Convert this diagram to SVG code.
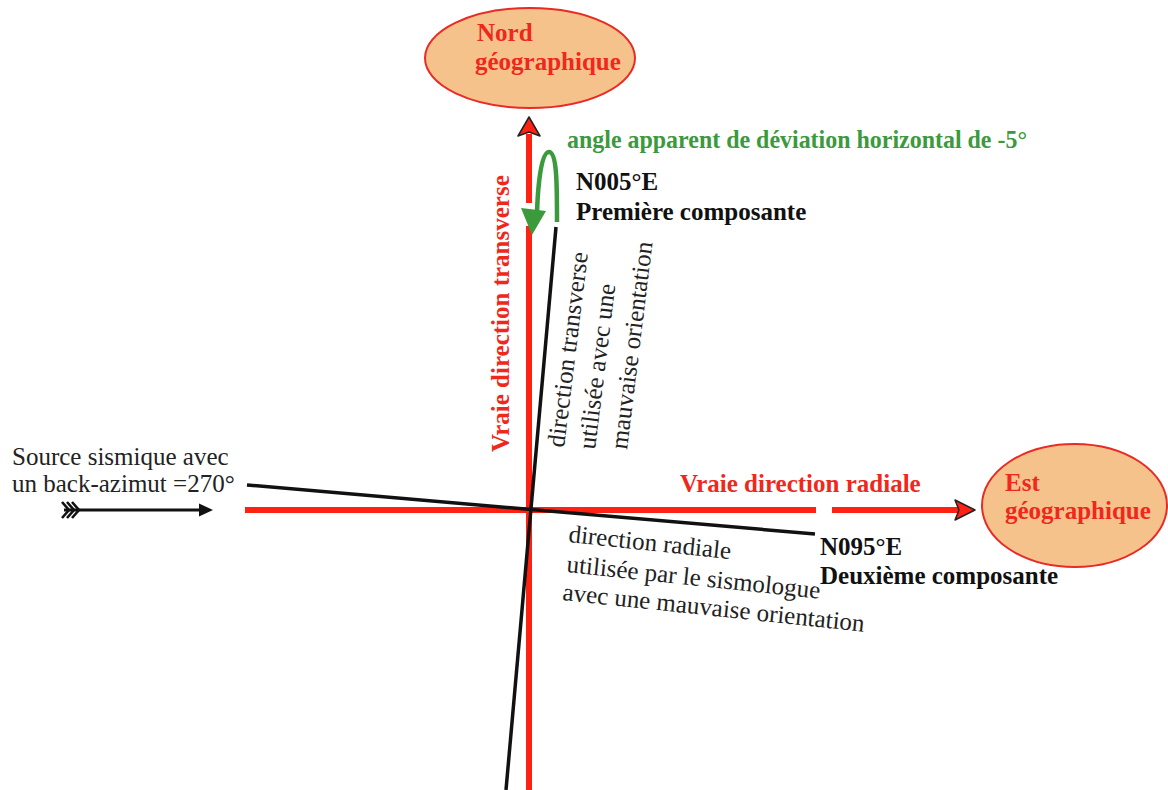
<svg xmlns="http://www.w3.org/2000/svg" width="1168" height="790" viewBox="0 0 1168 790">
<style>
.red{stroke:#ff2212;stroke-width:6;fill:none}
.blk{stroke:#111;stroke-width:3.5;fill:none}
.bold{font-family:"Liberation Serif","Times New Roman",serif;font-weight:bold;font-size:25px}
.reg{font-family:"Liberation Serif","Times New Roman",serif;font-size:25px;fill:#222}
.rt{fill:#f0281c}
.ell{fill:#f6c28c;stroke:#ea2a24;stroke-width:2}
.ah{fill:#ff2212;stroke:#222;stroke-width:1.5;stroke-linejoin:round}
</style>
<rect width="1168" height="790" fill="#ffffff"/>
<g id="connectors">
  <line class="red" x1="529" y1="134" x2="529" y2="203"/>
  <line class="red" x1="529" y1="226" x2="529" y2="790"/>
  <polygon class="ah" points="529,117 540,136 529,132 518,136"/>
  <line class="red" x1="245" y1="510" x2="816" y2="510"/>
  <line class="red" x1="832" y1="510" x2="958" y2="510"/>
  <polygon class="ah" points="975,510 955,500 959,510 955,520"/>
  <line class="blk" x1="556" y1="227" x2="506" y2="790"/>
  <line class="blk" x1="247" y1="485" x2="815" y2="534"/>
  <path d="M557,222 C557,185 557,152 549,152 C541,152 538,185 537,212" fill="none" stroke="#3a9a3c" stroke-width="4.5"/>
  <polygon points="521,208 546,211 532,235" fill="#3a9a3c"/>
  <g id="source-arrow" stroke="#111" fill="none" stroke-width="3">
    <line x1="64" y1="510" x2="204" y2="510"/>
    <polygon points="213,510 199,503.5 199,516.5" fill="#111" stroke="none"/>
    <polyline points="62,502 69,510 62,518" stroke-width="2.6"/>
    <polyline points="67,502 74,510 67,518" stroke-width="2.6"/>
    <polyline points="72,502 79,510 72,518" stroke-width="2.6"/>
  </g>
</g>
<g id="nord">
  <ellipse class="ell" cx="530" cy="58" rx="105" ry="50"/>
  <text class="bold rt" x="477" y="41">Nord</text>
  <text class="bold rt" x="475" y="70">géographique</text>
</g>
<g id="est">
  <ellipse class="ell" cx="1074.5" cy="505.5" rx="92.5" ry="61.5"/>
  <text class="bold rt" x="1005" y="491">Est</text>
  <text class="bold rt" x="1005" y="519">géographique</text>
</g>
<g id="labels">
  <text class="bold rt" transform="translate(509,452) rotate(-90)">Vraie direction transverse</text>
  <text class="bold rt" x="680" y="492">Vraie direction radiale</text>
  <text class="bold" x="567" y="148" fill="#3a9a3c" textLength="460" lengthAdjust="spacingAndGlyphs">angle apparent de déviation horizontal de -5°</text>
  <text class="bold" x="576" y="190" fill="#111">N005°E</text>
  <text class="bold" x="576" y="220" fill="#111">Première composante</text>
  <text class="bold" x="820" y="555" fill="#111">N095°E</text>
  <text class="bold" x="820" y="584" fill="#111">Deuxième composante</text>
  <text class="reg" x="12" y="465">Source sismique avec</text>
  <text class="reg" x="12" y="492">un back-azimut =270°</text>
  <text class="reg" transform="translate(564,448) rotate(-83)">direction transverse</text>
  <text class="reg" transform="translate(595,450) rotate(-83)">utilisée avec une</text>
  <text class="reg" transform="translate(627,450) rotate(-83)">mauvaise orientation</text>
  <text class="reg" transform="translate(568,542) rotate(6)">direction radiale</text>
  <text class="reg" transform="translate(566,572) rotate(6)">utilisée par le sismologue</text>
  <text class="reg" transform="translate(562,600) rotate(6)">avec une mauvaise orientation</text>
</g>
</svg>
